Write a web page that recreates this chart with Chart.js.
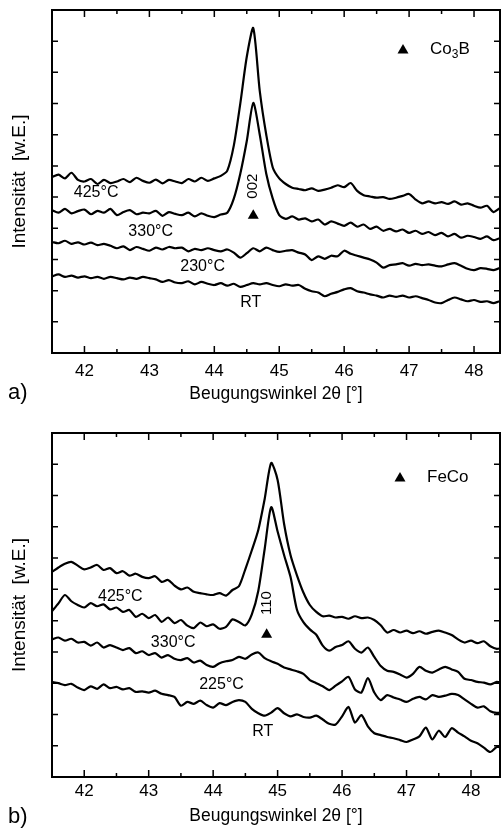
<!DOCTYPE html>
<html>
<head>
<meta charset="utf-8">
<script src="https://cdn.jsdelivr.net/npm/chart.js@4.4.1/dist/chart.umd.min.js"></script>
<style>
  body { margin: 0; background: #fff; }
  #wrap { position: relative; width: 502px; height: 830px; }
  canvas { position: absolute; left: 0; }
</style>
</head>
<body>
<div id="wrap">
  <canvas id="chartA" width="502" height="415" style="top:0"></canvas>
  <canvas id="chartB" width="502" height="415" style="top:415px"></canvas>
</div>
<script>
// Beugungswinkel 2θ (°)
const winkel = [41.5, 41.6, 41.7, 41.8, 41.9, 42.0, 42.1, 42.2, 42.3, 42.4,
  42.5, 42.6, 42.7, 42.8, 42.9, 43.0, 43.1, 43.2, 43.3, 43.4,
  43.5, 43.6, 43.7, 43.8, 43.9, 44.0, 44.1, 44.2, 44.3, 44.4,
  44.5, 44.6, 44.7, 44.8, 44.9, 45.0, 45.1, 45.2, 45.3, 45.4,
  45.5, 45.6, 45.7, 45.8, 45.9, 46.0, 46.1, 46.2, 46.3, 46.4,
  46.5, 46.6, 46.7, 46.8, 46.9, 47.0, 47.1, 47.2, 47.3, 47.4,
  47.5, 47.6, 47.7, 47.8, 47.9, 48.0, 48.1, 48.2, 48.3, 48.4, 48.5];

const xTicks = [42, 43, 44, 45, 46, 47, 48];
const xMinor = [41.5, 42.5, 43.5, 44.5, 45.5, 46.5, 47.5, 48.5];
const yTicks = [1, 2, 3, 4, 5, 6, 7, 8, 9, 10];

// a) Co3B
const a425 = [5.64, 5.72, 5.60, 5.78, 5.55, 5.50, 5.58, 5.42, 5.55, 5.45,
  5.50, 5.58, 5.48, 5.62, 5.52, 5.46, 5.56, 5.44, 5.55, 5.50,
  5.45, 5.58, 5.50, 5.62, 5.52, 5.60, 5.68, 5.85, 6.65, 8.00,
  9.50, 10.42, 8.40, 7.00, 5.95, 5.60, 5.42, 5.30, 5.26, 5.22,
  5.28, 5.20, 5.24, 5.30, 5.38, 5.32, 5.45, 5.20, 5.06, 5.02,
  4.98, 5.00, 4.94, 4.98, 5.04, 5.10, 4.92, 4.80, 4.86, 4.80,
  4.84, 4.78, 4.86, 4.76, 4.80, 4.72, 4.66, 4.72, 4.52, 4.64, 4.60];
const a330 = [4.58, 4.50, 4.62, 4.48, 4.55, 4.60, 4.45, 4.56, 4.50, 4.62,
  4.42, 4.52, 4.58, 4.45, 4.50, 4.48, 4.56, 4.40, 4.52, 4.46,
  4.42, 4.50, 4.38, 4.48, 4.40, 4.36, 4.44, 4.50, 4.95, 5.75,
  6.80, 8.02, 7.00, 5.75, 4.95, 4.42, 4.30, 4.38, 4.28, 4.32,
  4.22, 4.28, 4.12, 4.22, 4.15, 4.08, 4.18, 4.05, 4.12, 3.98,
  4.05, 3.92, 3.98, 3.90, 3.96, 3.85, 3.92, 3.82, 3.88, 3.78,
  3.85, 3.74, 3.82, 3.70, 3.76, 3.72, 3.66, 3.74, 3.62, 3.68, 3.64];
const a230 = [3.56, 3.52, 3.60, 3.50, 3.55, 3.48, 3.54, 3.46, 3.50, 3.44,
  3.36, 3.42, 3.30, 3.40, 3.34, 3.28, 3.38, 3.32, 3.40, 3.36,
  3.38, 3.26, 3.34, 3.30, 3.36, 3.30, 3.26, 3.32, 3.22, 3.06,
  3.20, 3.36, 3.26, 3.38, 3.30, 3.24, 3.28, 3.30, 3.22, 3.16,
  2.98, 3.10, 3.02, 3.12, 3.10, 3.28, 3.18, 3.12, 3.06, 3.00,
  2.90, 2.74, 2.82, 2.84, 2.88, 2.80, 2.86, 2.82, 2.84, 2.80,
  2.78, 2.84, 2.88, 2.80, 2.70, 2.66, 2.72, 2.70, 2.66, 2.72, 2.70];
const aRT = [2.46, 2.52, 2.44, 2.48, 2.42, 2.46, 2.40, 2.44, 2.38, 2.44,
  2.40, 2.36, 2.42, 2.38, 2.44, 2.40, 2.36, 2.28, 2.34, 2.26,
  2.24, 2.30, 2.20, 2.28, 2.22, 2.18, 2.24, 2.16, 2.22, 2.12,
  2.18, 2.24, 2.20, 2.24, 2.18, 2.14, 2.20, 2.16, 2.18, 2.06,
  1.98, 1.94, 1.82, 1.90, 1.96, 2.04, 2.08, 1.98, 1.94, 1.88,
  1.84, 1.78, 1.84, 1.80, 1.84, 1.78, 1.82, 1.76, 1.70, 1.62,
  1.60, 1.70, 1.78, 1.72, 1.66, 1.70, 1.64, 1.66, 1.60, 1.66, 1.64];

// b) FeCo
const b425 = [6.56, 6.70, 6.82, 6.88, 6.76, 6.64, 6.70, 6.78, 6.62, 6.68,
  6.52, 6.58, 6.44, 6.50, 6.40, 6.36, 6.42, 6.24, 6.30, 6.12,
  6.00, 6.06, 5.92, 5.88, 5.84, 5.82, 5.88, 5.80, 5.98, 6.10,
  6.65, 7.25, 7.90, 8.90, 10.04, 9.50, 8.10, 7.10, 6.45, 5.90,
  5.50, 5.28, 5.14, 5.16, 5.10, 5.12, 5.06, 5.14, 5.08, 5.10,
  5.02, 4.85, 4.62, 4.70, 4.62, 4.68, 4.60, 4.66, 4.58, 4.64,
  4.68, 4.62, 4.54, 4.40, 4.30, 4.36, 4.28, 4.34, 4.18, 4.10, 4.14];
const b330 = [5.30, 5.55, 5.82, 5.62, 5.50, 5.42, 5.56, 5.46, 5.52, 5.36,
  5.42, 5.28, 5.34, 5.12, 5.22, 5.08, 5.18, 4.96, 5.10, 4.92,
  5.02, 4.84, 4.76, 4.94, 4.82, 4.88, 4.74, 4.80, 5.04, 4.96,
  4.85, 5.20, 5.95, 7.30, 8.63, 7.85, 7.10, 6.40, 5.35, 4.95,
  4.72, 4.55, 4.20, 4.04, 4.16, 4.22, 4.34, 4.10, 3.98, 4.14,
  3.84, 3.55, 3.40, 3.36, 3.28, 3.18, 3.30, 3.52, 3.40, 3.34,
  3.44, 3.52, 3.44, 3.36, 3.14, 3.10, 3.04, 3.02, 2.96, 3.04, 3.00];
const b225 = [4.40, 4.46, 4.36, 4.42, 4.30, 4.32, 4.20, 4.30, 4.14, 4.22,
  4.14, 4.06, 4.12, 3.96, 4.02, 3.90, 3.96, 3.82, 3.90, 3.78,
  3.74, 3.80, 3.66, 3.72, 3.58, 3.52, 3.64, 3.70, 3.74, 3.84,
  3.78, 3.92, 3.98, 3.80, 3.70, 3.62, 3.50, 3.44, 3.38, 3.30,
  3.10, 3.00, 2.90, 2.78, 2.92, 3.06, 3.20, 2.80, 2.70, 3.16,
  2.70, 2.46, 2.62, 2.54, 2.48, 2.40, 2.50, 2.56, 2.48, 2.62,
  2.56, 2.60, 2.66, 2.62, 2.48, 2.34, 2.22, 2.26, 2.10, 2.05, 2.08];
const bRT = [3.04, 3.00, 2.94, 2.98, 2.86, 2.78, 2.90, 2.82, 2.96, 2.84,
  2.88, 2.80, 2.84, 2.72, 2.74, 2.70, 2.76, 2.66, 2.62, 2.56,
  2.28, 2.40, 2.34, 2.44, 2.30, 2.22, 2.36, 2.30, 2.40, 2.46,
  2.40, 2.18, 2.04, 1.96, 2.06, 2.20, 2.04, 1.94, 2.00, 1.92,
  1.90, 1.96, 1.84, 1.70, 1.68, 1.94, 2.24, 1.74, 1.98, 1.62,
  1.40, 1.34, 1.28, 1.24, 1.18, 1.12, 1.20, 1.30, 1.58, 1.20,
  1.48, 1.28, 1.56, 1.42, 1.30, 1.16, 1.08, 0.94, 0.80, 0.96, 0.94];

const FONT = '"Liberation Sans", Arial, sans-serif';

function punkte(werte) {
  return winkel.map((x, i) => ({ x: x, y: werte[i] }));
}

// Rahmen, Ticks nach innen und Beschriftungen
const rahmen = {
  id: 'rahmen',
  afterDraw(chart, args, o) {
    const ctx = chart.ctx;
    const a = chart.chartArea;
    const x = chart.scales.x, y = chart.scales.y;
    ctx.save();
    ctx.strokeStyle = '#000';
    ctx.fillStyle = '#000';
    ctx.lineWidth = 2;
    ctx.strokeRect(a.left, a.top, a.right - a.left, a.bottom - a.top);

    ctx.lineWidth = 1.5;
    ctx.beginPath();
    xTicks.forEach(v => {
      const p = x.getPixelForValue(v);
      ctx.moveTo(p, a.bottom); ctx.lineTo(p, a.bottom - 7);
      ctx.moveTo(p, a.top); ctx.lineTo(p, a.top + 7);
    });
    xMinor.forEach(v => {
      const p = x.getPixelForValue(v);
      if (p > a.right) return;
      ctx.moveTo(p, a.bottom); ctx.lineTo(p, a.bottom - 4);
      ctx.moveTo(p, a.top); ctx.lineTo(p, a.top + 4);
    });
    yTicks.forEach(v => {
      const p = y.getPixelForValue(v);
      ctx.moveTo(a.left, p); ctx.lineTo(a.left + 6, p);
      ctx.moveTo(a.right, p); ctx.lineTo(a.right - 6, p);
    });
    ctx.stroke();

    // Temperaturen
    ctx.font = '16px ' + FONT;
    ctx.textAlign = 'center';
    ctx.textBaseline = 'middle';
    o.labels.forEach(l => {
      ctx.fillText(l.text, x.getPixelForValue(l.x), y.getPixelForValue(l.y));
    });

    // Reflex
    const rx = x.getPixelForValue(o.reflex.x);
    ctx.save();
    ctx.translate(rx, y.getPixelForValue(o.reflex.y));
    ctx.rotate(-Math.PI / 2);
    ctx.font = '15px ' + FONT;
    ctx.fillText(o.reflex.text, 0, 0);
    ctx.restore();
    dreieck(ctx, rx, y.getPixelForValue(o.reflex.marker));

    // Legende
    const lx = a.right - o.legend.dx, ly = a.top + o.legend.dy;
    dreieck(ctx, lx, ly);
    ctx.textAlign = 'left';
    ctx.font = '17px ' + FONT;
    let tx = lx + 27;
    o.legend.parts.forEach(p => {
      if (p.sub) {
        ctx.font = '12px ' + FONT;
        ctx.fillText(p.text, tx, ly + 6);
        tx += ctx.measureText(p.text).width;
        ctx.font = '17px ' + FONT;
      } else {
        ctx.fillText(p.text, tx, ly);
        tx += ctx.measureText(p.text).width;
      }
    });

    // Teilbild
    ctx.font = '22px ' + FONT;
    ctx.fillText(o.letter, 8, o.letterY);
    ctx.restore();
  }
};

function dreieck(ctx, cx, cy) {
  ctx.beginPath();
  ctx.moveTo(cx, cy - 5);
  ctx.lineTo(cx + 5.5, cy + 4.5);
  ctx.lineTo(cx - 5.5, cy + 4.5);
  ctx.closePath();
  ctx.fill();
}

function diagramm(id, reihen, cfg) {
  const ctx = document.getElementById(id).getContext('2d');
  return new Chart(ctx, {
    type: 'line',
    data: {
      datasets: reihen.map(r => ({
        data: punkte(r),
        borderColor: '#000',
        borderWidth: 2.2,
        pointRadius: 0,
        tension: 0.25,
        fill: false
      }))
    },
    options: {
      responsive: false,
      animation: false,
      devicePixelRatio: 1,
      layout: { padding: { top: cfg.top, right: 2, left: 0, bottom: 0 } },
      plugins: {
        legend: { display: false },
        tooltip: { enabled: false },
        rahmen: cfg.anno
      },
      scales: {
        x: {
          type: 'linear',
          min: 41.5,
          max: cfg.xMax,
          afterBuildTicks: s => { s.ticks = xTicks.map(v => ({ value: v })); },
          afterFit: s => { s.height = cfg.xHeight; },
          grid: { display: false, drawTicks: false },
          border: { display: false },
          ticks: {
            color: '#000',
            padding: cfg.tickPad,
            maxRotation: 0,
            font: { family: FONT, size: 17 }
          },
          title: {
            display: true,
            text: 'Beugungswinkel 2θ [°]',
            color: '#000',
            font: { family: FONT, size: 17.5 },
            padding: { top: 0, bottom: cfg.titlePad }
          }
        },
        y: {
          min: 0,
          max: 11,
          afterFit: s => { s.width = 52; },
          grid: { display: false, drawTicks: false },
          border: { display: false },
          ticks: { display: false },
          title: {
            display: true,
            text: 'Intensität  [w.E.]',
            color: '#000',
            font: { family: FONT, size: 19 },
            padding: { top: 8, bottom: 0 }
          }
        }
      }
    },
    plugins: [rahmen]
  });
}

diagramm('chartA', [a425, a330, a230, aRT], {
  top: 10, xMax: 48.4, xHeight: 62, tickPad: 8, titlePad: 10,
  anno: {
    labels: [
      { text: '425°C', x: 42.18, y: 5.13 },
      { text: '330°C', x: 43.02, y: 3.88 },
      { text: '230°C', x: 43.82, y: 2.76 },
      { text: 'RT', x: 44.56, y: 1.62 }
    ],
    reflex: { text: '002', x: 44.6, y: 5.35, marker: 4.45 },
    legend: { dx: 97, dy: 39, parts: [{ text: 'Co' }, { text: '3', sub: true }, { text: 'B' }] },
    letter: 'a)', letterY: 393
  }
});

diagramm('chartB', [b425, b330, b225, bRT], {
  top: 18, xMax: 48.45, xHeight: 53, tickPad: 4, titlePad: 3,
  anno: {
    labels: [
      { text: '425°C', x: 42.56, y: 5.76 },
      { text: '330°C', x: 43.38, y: 4.29 },
      { text: '225°C', x: 44.13, y: 2.94 },
      { text: 'RT', x: 44.77, y: 1.44 }
    ],
    reflex: { text: '110', x: 44.83, y: 5.56, marker: 4.6 },
    legend: { dx: 100, dy: 44, parts: [{ text: 'FeCo' }] },
    letter: 'b)', letterY: 402
  }
});
</script>
</body>
</html>
